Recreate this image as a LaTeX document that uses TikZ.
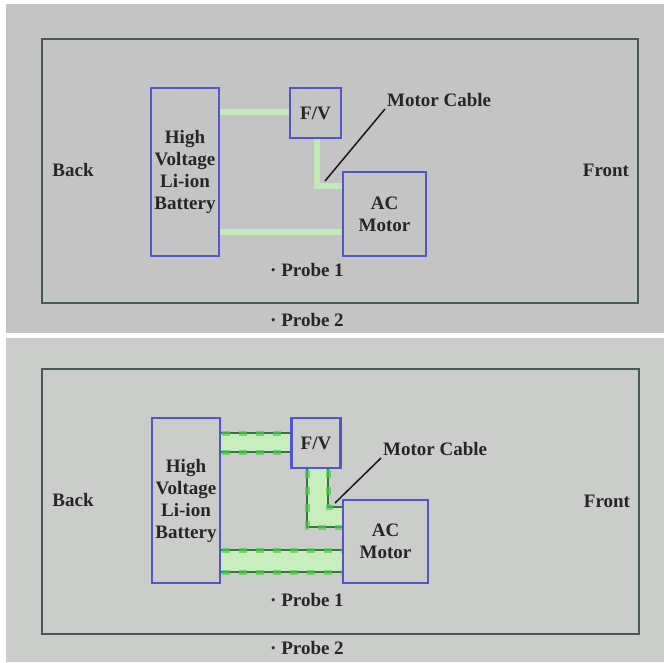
\documentclass[tikz,border=0pt]{standalone}
\usepackage{fontspec}
\setmainfont{Liberation Serif}
\usetikzlibrary{calc}
\definecolor{panelA}{RGB}{196,196,196}
\definecolor{panelB}{RGB}{202,205,201}
\definecolor{boxblue}{RGB}{84,84,205}
\definecolor{frameg}{RGB}{72,88,82}
\definecolor{palegreen}{RGB}{196,232,184}
\definecolor{fillgreen}{RGB}{200,238,190}
\definecolor{darkgreen}{RGB}{50,120,60}
\definecolor{blobgreen}{RGB}{80,200,80}
\tikzset{
  lbl/.style={font=\bfseries\fontsize{19}{22}\selectfont, text=black!85, inner sep=0pt, align=center},
  compbox/.style={draw=boxblue, line width=2.4pt, inner sep=0pt, lbl},
  frame/.style={draw=frameg, line width=2.4pt},
  lightcable/.style={draw=palegreen, line width=6pt},
  darkcable/.style={draw=darkgreen, line width=2.6pt},
  blobs/.style={draw=blobgreen, line width=5pt, dash pattern=on 8pt off 9pt, opacity=0.7},
  leader/.style={draw=black!90, line width=1.5pt}
}
\begin{document}
\begin{tikzpicture}[x=1pt,y=-1pt]
\useasboundingbox (0,0) rectangle (664,662);
\fill[white] (0,0) rectangle (664,662);
\fill[panelA] (6,4) rectangle (664,333);
\fill[panelB] (6,338) rectangle (664,662);

% ---------------- top panel ----------------
\draw[frame] (42,39) rectangle (638,303);
\node[lbl] (back1) at (73,170) {Back};
\node[lbl] (front1) at (606,170) {Front};
\node[lbl] (probea1) at (307,270) {· Probe 1};
\node[lbl] (probeb1) at (307,320) {· Probe 2};

\coordinate (c1a) at (219,112);
\coordinate (c1b) at (317,186);
\coordinate (c1c) at (219,232);
\draw[lightcable] (c1a) -- (291,112);
\draw[lightcable] (317,138) -- (c1b) -- (343,186);
\draw[lightcable] (c1c) -- (343,232);

\node[compbox, minimum width=68pt, minimum height=168pt] (bat1) at (185,172) {High\\Voltage\\Li-ion\\Battery};
\node[compbox, minimum width=51pt, minimum height=50pt] (fv1) at (315.5,113) {F/V};
\node[compbox, minimum width=83pt, minimum height=84pt] (ac1) at (384.5,214) {AC\\Motor};
\node[lbl, anchor=west] (mc1) at (387,100) {Motor Cable};
\coordinate (tip1) at (325,181);
\draw[leader] (385,109) -- (tip1);

% ---------------- bottom panel ----------------
\draw[frame] (42,369) rectangle (639,634);
\node[lbl] (back2) at (73,500) {Back};
\node[lbl] (front2) at (607,501) {Front};
\node[lbl] (probea2) at (307,600) {· Probe 1};
\node[lbl] (probeb2) at (307,648) {· Probe 2};

% fills between double cables
\fill[fillgreen] (220,433) rectangle (292,452);
\fill[fillgreen] (307,468) -- (307,527) -- (343,527) -- (343,507) -- (328,507) -- (328,468) -- cycle;
\fill[fillgreen] (220,550) rectangle (343,572);
% boundary lines
\foreach \yy in {433,452} {
  \draw[darkcable] (220,\yy) -- (292,\yy);
  \draw[blobs] (222,\yy) -- (292,\yy);
}
\draw[darkcable] (307,468) -- (307,527) -- (343,527);
\draw[blobs] (307,470) -- (307,527) -- (343,527);
\draw[darkcable] (328,468) -- (328,507) -- (343,507);
\draw[blobs] (328,470) -- (328,507) -- (343,507);
\foreach \yy in {550,572} {
  \draw[darkcable] (220,\yy) -- (343,\yy);
  \draw[blobs] (222,\yy) -- (343,\yy);
}

\node[compbox, minimum width=68pt, minimum height=165pt] (bat2) at (186,500.5) {High\\Voltage\\Li-ion\\Battery};
\node[compbox, minimum width=49pt, minimum height=50pt] (fv2) at (316,443) {F/V};
\node[compbox, minimum width=85pt, minimum height=83pt] (ac2) at (385.5,541.5) {AC\\Motor};
\node[lbl, anchor=west] (mc2) at (383,449) {Motor Cable};
\coordinate (tip2) at (335,503);
\draw[leader] (381,458) -- (tip2);
\end{tikzpicture}
\end{document}
